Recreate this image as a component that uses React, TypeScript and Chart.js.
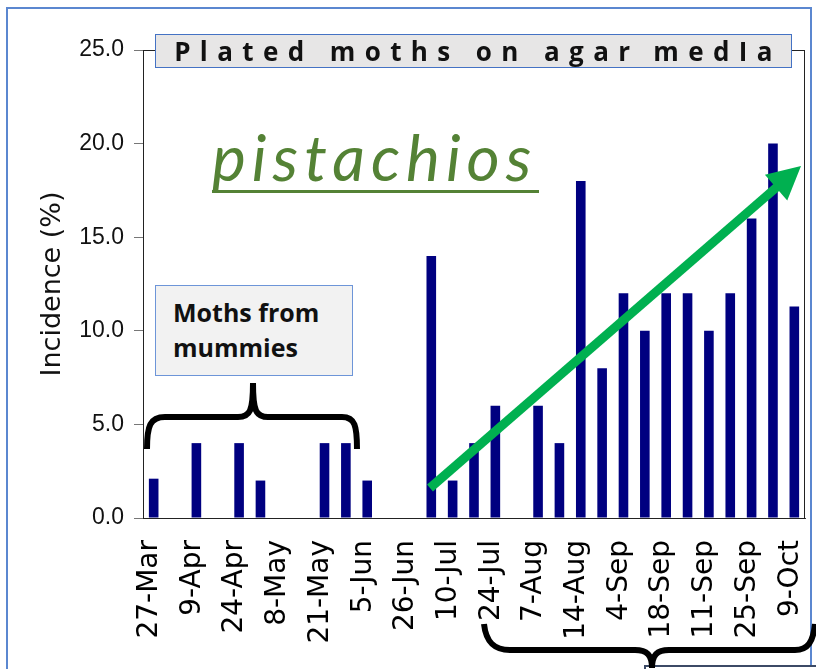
import React, { useEffect, useRef } from "react";
import { Chart, registerables } from "chart.js";

Chart.register(...registerables);

// Sampling dates (only every other date is labelled on the axis)
const categories: string[] = [
  "27-Mar", "", "9-Apr", "", "24-Apr", "", "8-May", "", "21-May", "", "5-Jun", "",
  "26-Jun", "", "10-Jul", "", "24-Jul", "", "7-Aug", "", "14-Aug", "", "4-Sep", "",
  "18-Sep", "", "11-Sep", "", "25-Sep", "", "9-Oct",
];

// Incidence (%) of plated moths
const incidence: (number | null)[] = [
  2.1, null, 4, null, 4, 2, null, null, 4, 4, 2, null, null, 14, 2, 4,
  6, null, 6, 4, 18, 8, 12, 10, 12, 12, 10, 12, 16, 20, 11.3,
];

const yTicks = { min: 0, max: 25, step: 5 };

const titleText = "Plated moths on agar\u2009medIa";
const axisTitle = "Incidence (%)";
const noteMummies = ["Moths from", "mummies"];
const notePistachios = "pistachios";

const framePlugin = {
  id: "plotFrame",
  afterDraw(chart: any) {
    const { ctx, chartArea } = chart;
    const { left, top, right, bottom } = chartArea;
    ctx.save();
    ctx.strokeStyle = "#222";
    ctx.lineWidth = 1;
    ctx.strokeRect(Math.round(left) + 0.5, Math.round(top) + 0.5, Math.round(right - left) - 1, Math.round(bottom - top));
    ctx.restore();
  },
};

function Arrow() {
  const tail = { x: 430, y: 488 };
  const tip = { x: 801, y: 166 };
  const dx = tip.x - tail.x;
  const dy = tip.y - tail.y;
  const len = Math.hypot(dx, dy);
  const ux = dx / len;
  const uy = dy / len;
  const nx = -uy;
  const ny = ux;
  const headLen = 33;
  const headHalf = 17;
  const bx = tip.x - headLen * ux;
  const by = tip.y - headLen * uy;
  const pts = `${tip.x},${tip.y} ${bx + headHalf * nx},${by + headHalf * ny} ${bx - headHalf * nx},${by - headHalf * ny}`;
  return (
    <g>
      <line x1={tail.x} y1={tail.y} x2={bx + ux * 2} y2={by + uy * 2} stroke="#00b050" strokeWidth={9} />
      <polygon points={pts} fill="#00b050" />
    </g>
  );
}

export default function App() {
  const canvasRef = useRef<HTMLCanvasElement | null>(null);

  useEffect(() => {
    if (!canvasRef.current) return;
    const chart = new Chart(canvasRef.current, {
      type: "bar",
      data: {
        labels: categories,
        datasets: [
          {
            label: "Incidence",
            data: incidence,
            backgroundColor: "#000080",
            borderWidth: 0,
            barPercentage: 0.45,
            categoryPercentage: 1,
          },
        ],
      },
      options: {
        animation: false,
        responsive: false,
        layout: { padding: { left: 0, right: 11, top: 50, bottom: 0 } },
        plugins: {
          legend: { display: false },
          tooltip: { enabled: false },
          title: { display: false },
        },
        scales: {
          x: {
            type: "category",
            offset: true,
            grid: { display: false, drawTicks: false },
            border: { display: true, color: "#333", width: 1 },
            ticks: {
              autoSkip: false,
              minRotation: 90,
              maxRotation: 90,
              padding: 22,
              labelOffset: -4,
              color: "#000",
              font: { family: "'DejaVu Sans', sans-serif", size: 28 },
            },
            afterFit: (scale: any) => {
              scale.height = 151;
              scale.paddingLeft = 0;
              scale.paddingRight = 0;
            },
          },
          y: {
            min: yTicks.min,
            max: yTicks.max,
            grid: {
              display: true,
              drawOnChartArea: false,
              drawTicks: true,
              tickLength: 9,
              color: "#777",
            },
            border: { display: true, color: "#333", width: 1 },
            ticks: {
              stepSize: yTicks.step,
              padding: 10,
              color: "#111",
              font: { family: "'Liberation Sans', Arial, sans-serif", size: 23 },
              callback: (v: any) => Number(v).toFixed(1),
            },
            title: {
              display: true,
              text: axisTitle,
              color: "#111",
              padding: { top: 37, bottom: 0 },
              font: { family: "'DejaVu Sans', sans-serif", size: 27, weight: "normal" },
            },
            afterFit: (scale: any) => {
              scale.width = 143;
            },
          },
        },
      },
      plugins: [framePlugin],
    });
    return () => chart.destroy();
  }, []);

  return (
    <div
      style={{
        position: "absolute",
        left: 0,
        top: 0,
        width: 816,
        height: 669,
        overflow: "hidden",
        background: "#fff",
      }}
    >
      <canvas ref={canvasRef} width={816} height={669} style={{ position: "absolute", left: 0, top: 0, display: "block" }} />
      {/* outer chart frame */}
      <div
        style={{
          position: "absolute",
          left: 6,
          top: 7,
          width: 806,
          height: 720,
          border: "2px solid #5b87d0",
          boxSizing: "border-box",
          pointerEvents: "none",
        }}
      />
      {/* title box */}
      <div
        style={{
          position: "absolute",
          left: 155,
          top: 34,
          width: 637,
          height: 34,
          boxSizing: "border-box",
          background: "#e7e6e6",
          border: "1px solid #4472c4",
          display: "flex",
          alignItems: "center",
          justifyContent: "center",
          fontFamily: "'Open Sans', sans-serif",
          fontWeight: 700,
          fontSize: 26,
          letterSpacing: "9.4px",
          color: "#111",
          whiteSpace: "pre",
          lineHeight: 1,
          paddingLeft: 9,
        }}
      >
        {titleText}
      </div>
      {/* pistachios note */}
      <div
        style={{
          position: "absolute",
          left: 212,
          top: 119,
          fontFamily: "Lato, sans-serif",
          fontStyle: "italic",
          fontWeight: 400,
          fontSize: 64,
          letterSpacing: "6px",
          color: "#548235",
          lineHeight: 1.2,
          whiteSpace: "nowrap",
        }}
      >
        {notePistachios}
      </div>
      <div style={{ position: "absolute", left: 212, top: 190, width: 327, height: 3, background: "#548235" }} />
      {/* mummies note */}
      <div
        style={{
          position: "absolute",
          left: 155,
          top: 285,
          width: 198,
          height: 91,
          boxSizing: "border-box",
          background: "#f2f2f2",
          border: "1px solid #6d95d8",
          paddingLeft: 17,
          paddingTop: 9,
          fontFamily: "'Open Sans', sans-serif",
          fontWeight: 700,
          fontSize: 25,
          lineHeight: "35px",
          color: "#111",
        }}
      >
        {noteMummies.map((t) => (
          <div key={t}>{t}</div>
        ))}
      </div>
      {/* bottom (cut off) box */}
      <div
        style={{
          position: "absolute",
          left: 644,
          top: 665,
          width: 200,
          height: 30,
          boxSizing: "border-box",
          border: "2px solid #3c4a66",
          background: "#fff",
        }}
      />
      <svg width={816} height={669} style={{ position: "absolute", left: 0, top: 0, pointerEvents: "none" }}>
        <path
          d="M147,449 C147,426 150,417 165,417 L238,417 C250,417 253,411 253,383 C253,411 256,417 268,417 L342,417 C355,417 357,426 357,449"
          fill="none"
          stroke="#000"
          strokeWidth={6}
        />
        <path
          d="M484,624 C486,642 494,650 510,650 L635,650 C647,650 652,655 652,668 C652,655 657,650 669,650 L795,650 C808,650 813,642 815,624"
          fill="none"
          stroke="#000"
          strokeWidth={6}
        />
        <Arrow />
      </svg>
    </div>
  );
}
